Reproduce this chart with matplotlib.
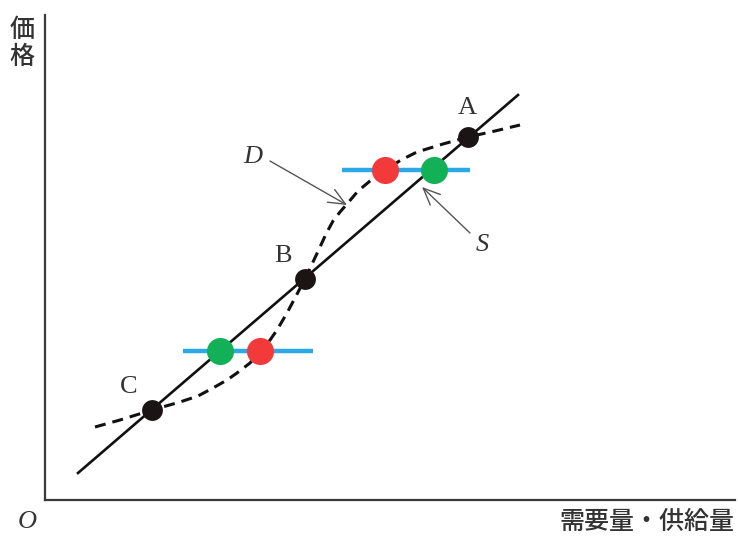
import matplotlib
matplotlib.use("Agg")
import matplotlib.pyplot as plt

# Supply line S (quantity, price)
supply_q = [33, 473]
supply_p = [27, 405]

# Demand curve D, traced as an S-shaped dashed curve
demand_q = [50, 75, 107, 135, 153, 168, 182, 192, 205, 215, 223, 232, 242,
            251, 260, 268, 275, 281, 288, 295, 302, 313, 325, 340, 356, 372, 398, 423, 450, 475]
demand_p = [73, 80, 90, 98, 104, 112, 120, 127, 137, 148, 157, 170, 187,
            204, 221, 238, 253, 266, 279, 288, 296, 309, 319, 330, 340, 348, 356, 363, 369, 375]

# Equilibrium points
eq_labels = ["A", "B", "C"]
eq_q = [423, 260, 107]
eq_p = [363, 221, 90]

# Two price levels with the quantities supplied / demanded
price_levels = [149, 330]
level_q_start = [138, 297]
level_q_end = [268, 425]
supplied_q = [175, 389]
demanded_q = [215, 340]

fig = plt.figure(figsize=(7.38, 5.36), dpi=100)
W, H = 738, 536
ax = fig.add_axes([45 / W, (H - 500) / H, (735 - 45) / W, (500 - 15) / H])
ax.set_xlim(0, 690)
ax.set_ylim(0, 485)
for side in ("top", "right"):
    ax.spines[side].set_visible(False)
for side in ("left", "bottom"):
    ax.spines[side].set_color("#3a3a3a")
    ax.spines[side].set_linewidth(1.6)
ax.set_xticks([])
ax.set_yticks([])

blue = "#2aa9e6"
green = "#12b157"
red = "#f23a3a"

for p, q0, q1 in zip(price_levels, level_q_start, level_q_end):
    ax.plot([q0, q1], [p, p], color=blue, lw=3.2, solid_capstyle="butt", zorder=2)

ax.plot(supply_q, supply_p, color="#111111", lw=1.9, zorder=3)
ax.plot(demand_q, demand_p, color="#111111", lw=2.2, dashes=(3.6, 2.3), zorder=3)

ax.plot(supplied_q, price_levels, "o", color=green, ms=19.5, mec="none", zorder=4)
ax.plot(demanded_q, price_levels, "o", color=red, ms=19.5, mec="none", zorder=4)
ax.plot(eq_q, eq_p, "o", color="#1a1414", ms=15, mec="none", zorder=5)

serif = "Liberation Serif"
label_off = {"A": (-1, 29), "B": (-22, 23), "C": (-23, 23)}
for name, q, p in zip(eq_labels, eq_q, eq_p):
    dx, dy = label_off[name]
    ax.text(q + dx, p + dy, name, family=serif, fontsize=19, color="#333333",
            ha="center", va="center")

arrow_kw = dict(arrowstyle="->,head_length=0.8,head_width=0.35", color="#555555",
                lw=1.0, mutation_scale=15, shrinkA=0, shrinkB=0)
ax.annotate("", xy=(302, 295), xytext=(225, 339), arrowprops=arrow_kw)
ax.text(208, 343, "D", family=serif, style="italic", fontsize=19, color="#333333",
        ha="center", va="center")
ax.annotate("", xy=(377, 313), xytext=(425, 267), arrowprops=arrow_kw)
ax.text(437, 255, "S", family=serif, style="italic", fontsize=19, color="#333333",
        ha="center", va="center")

ax.text(-18, -22, "O", family=serif, style="italic", fontsize=19, color="#333333",
        ha="center", va="center", clip_on=False)
jp = ["Noto Sans CJK JP", "DejaVu Sans"]
ax.text(690, -22, "需要量・供給量", family=jp, fontsize=18, fontweight="medium",
        color="#333333", ha="right", va="center", clip_on=False)
ax.text(-23, 470, "価", family=jp, fontsize=18, fontweight="medium", color="#333333",
        ha="center", va="center", clip_on=False)
ax.text(-23, 443, "格", family=jp, fontsize=18, fontweight="medium", color="#333333",
        ha="center", va="center", clip_on=False)

fig.savefig("out.png", dpi=100)
